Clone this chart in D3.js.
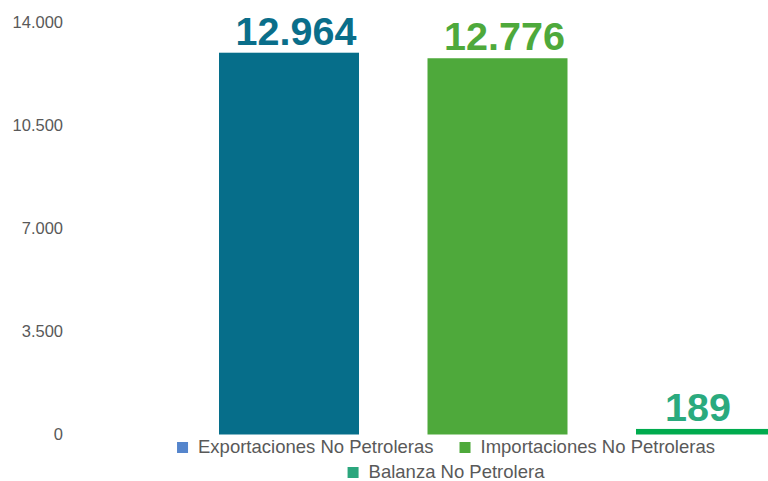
<!DOCTYPE html>
<html lang="es">

<head>
  <meta charset="UTF-8">
  <title>balanza no petrolera</title>
  <script src="https://cdn.jsdelivr.net/npm/d3@7"></script>
  <style>
    body { margin: 0; background: #fff; }
    text { font-family: "Liberation Sans", Arial, sans-serif; }
  </style>
</head>

<body>
  <svg width="768" height="481"></svg>
  <script>
    var categories = ['Exportaciones No Petroleras', 'Importaciones No Petroleras', 'Balanza No Petrolera']
    var values = [12964, 12776, 189]
    var ticks = [0, 3500, 7000, 10500, 14000]
    var barColors = ['#066e8a', '#4ea93b', '#00ab4e']
    var labelColors = ['#0a6e8a', '#4ea93b', '#2aaa7e']
    var legendColors = ['#5585cc', '#4ea93b', '#2ba67d']

    var svg = d3.select('svg')
    var W = 768

    var es = d3.formatLocale({ decimal: ',', thousands: '.', grouping: [3], currency: ['$', ''] })
    var fmt = es.format(',.0f')

    var y = d3.scaleLinear()
      .domain([0, 14000])
      .range([434.5, 22.2])

    var x = d3.scaleBand()
      .domain(categories)
      .range([184.75, 810.25])
      .paddingInner(0.3285)
      .paddingOuter(0.1643)

    // y axis labels only, no line
    svg.append('g')
      .selectAll('text')
      .data(ticks)
      .enter()
      .append('text')
      .attr('x', 63)
      .attr('y', d => y(d))
      .attr('dy', '0.35em')
      .attr('text-anchor', 'end')
      .attr('fill', '#595959')
      .attr('font-size', 16.5)
      .text(d => fmt(d))

    svg.append('g')
      .selectAll('rect')
      .data(values)
      .enter()
      .append('rect')
      .attr('x', (d, i) => x(categories[i]))
      .attr('y', d => y(d))
      .attr('width', x.bandwidth())
      .attr('height', d => y(0) - y(d))
      .attr('fill', (d, i) => barColors[i])

    svg.append('g')
      .selectAll('text')
      .data(values)
      .enter()
      .append('text')
      .attr('x', (d, i) => {
        let x0 = x(categories[i])
        let x1 = Math.min(x0 + x.bandwidth(), W)
        return i < 2 ? x0 + x.bandwidth() / 2 + 7 : (x0 + x1) / 2 - 4
      })
      .attr('y', d => y(d) - 8)
      .attr('text-anchor', 'middle')
      .attr('font-weight', 'bold')
      .attr('font-size', 39.5)
      .attr('fill', (d, i) => labelColors[i])
      .text(d => fmt(d))

    // legend, two rows centred
    var rows = [[0, 1], [2]]
    var legendCenter = 446
    var sq = 11, gap = 10, itemGap = 26
    var legend = svg.append('g').attr('font-size', 18.5).attr('fill', '#595959')
    rows.forEach((row, r) => {
      let g = legend.append('g')
      let cx = 0
      row.forEach(i => {
        let item = g.append('g').attr('transform', `translate(${cx},0)`)
        item.append('rect')
          .attr('y', -sq)
          .attr('width', sq)
          .attr('height', sq)
          .attr('fill', legendColors[i])
        let t = item.append('text')
          .attr('x', sq + gap)
          .attr('fill', '#595959')
          .text(categories[i])
        cx += sq + gap + t.node().getComputedTextLength() + itemGap
      })
      let total = cx - itemGap
      g.attr('transform', `translate(${legendCenter - total / 2},${453 + r * 25})`)
    })
  </script>
</body>

</html>
